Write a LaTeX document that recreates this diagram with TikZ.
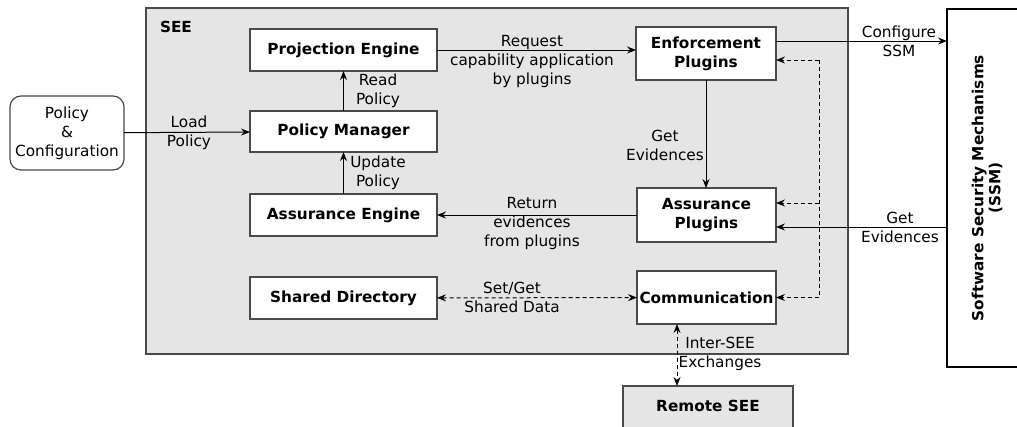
\documentclass[tikz,border=0pt]{standalone}
\usepackage{fontspec}
\setmainfont{DejaVu Sans}
\usetikzlibrary{arrows.meta}

\definecolor{seegrey}{HTML}{E5E5E5}
\definecolor{edgegrey}{HTML}{4A4A4A}

\newcommand{\diagfont}{\fontsize{15.3}{19}\selectfont}

\tikzset{
  every node/.style={font=\diagfont, inner sep=0pt, outer sep=0pt},
  box/.style={draw=edgegrey, line width=1.2pt, fill=white, align=center,
              font=\diagfont\bfseries},
  lbl/.style={align=center},
  tip/.style={-{Stealth[length=9pt,width=7pt,inset=3pt]}},
  conn/.style={tip, line width=1pt, black},
  dline/.style={line width=1pt, black, dash pattern=on 4pt off 3pt},
  dconn/.style={dline, tip},
  ddconn/.style={dline, {Stealth[length=9pt,width=7pt,inset=3pt]}-{Stealth[length=9pt,width=7pt,inset=3pt]}},
}

\begin{document}
\begin{tikzpicture}[x=1pt, y=-1pt]
  \useasboundingbox (0,0) rectangle (1017,426);
  \clip (0,0) rectangle (1017,426);

  % SEE container
  \node[draw=edgegrey, line width=1.2pt, fill=seegrey, minimum width=702pt, minimum height=346pt] (see) at (497,181) {};
  \node[anchor=west, font=\diagfont\bfseries] (seelbl) at (160,27) {SEE};

  % external elements
  \node[box, font=\diagfont, rounded corners=11pt, minimum width=114pt, minimum height=74pt] (pc) at (67,133) {Policy\\\&\\Configuration};
  \node[draw=black, line width=1.2pt, fill=white, minimum width=100pt, minimum height=358pt] (ssm) at (997,188) {};
  \node[rotate=90, align=center, font=\fontsize{15.3}{17}\selectfont\bfseries] (ssmlbl) at (987,188) {Software Security Mechanisms\\(SSM)};
  \node[draw=edgegrey, line width=1.2pt, fill=seegrey, minimum width=170pt, minimum height=60pt] (remote) at (708,416) {};
  \node[font=\diagfont\bfseries] (remotelbl) at (708,406) {Remote SEE};

  % SEE components
  \node[box, minimum width=187pt, minimum height=42pt] (pe) at (343.5,50) {Projection Engine};
  \node[box, minimum width=187pt, minimum height=41pt] (pm) at (343.5,131.5) {Policy Manager};
  \node[box, minimum width=187pt, minimum height=42pt] (ae) at (343.5,215) {Assurance Engine};
  \node[box, minimum width=187pt, minimum height=42pt] (sd) at (343.5,298) {Shared Directory};
  \node[box, minimum width=140pt, minimum height=53pt] (enf) at (706,53.5) {Enforcement\\Plugins};
  \node[box, minimum width=139pt, minimum height=54pt] (ap) at (706.5,215) {Assurance\\Plugins};
  \node[box, minimum width=139pt, minimum height=53pt] (comm) at (706.5,297.5) {Communication};

  % solid connectors
  \draw[conn] (pc) -- (pm);
  \draw[conn] (pm) -- (pe);
  \draw[conn] (ae) -- (pm);
  \draw[conn] (pe) -- (pe -| enf.west);
  \draw[conn] (enf.south) -- (enf.south |- ap.north);
  \draw[conn] (ap) -- (ae);
  \draw[conn] ([yshift=12.5pt]enf.east) -- ([yshift=12.5pt]enf.east -| ssm.west);
  \draw[conn] ([yshift=-12pt]ap.east -| ssm.west) -- ([yshift=-12pt]ap.east);

  % dashed connectors
  \coordinate (bustop) at (819,60);
  \coordinate (busmid) at (819,203);
  \coordinate (busbot) at (819,297.5);
  \draw[dline] (bustop) -- (busbot);
  \draw[dconn] (bustop) -- (bustop -| enf.east);
  \draw[dconn] (busmid) -- (busmid -| ap.east);
  \draw[dconn] (busbot) -- (comm.east);
  \draw[ddconn] (sd) -- (comm);
  \draw[ddconn] (comm.south -| 677,0) -- (remote.north -| 677,0);

  % connector labels
  \node[lbl] (l1) at (189,132.5) {Load\\Policy};
  \node[lbl] (l2) at (378,90.5) {Read\\Policy};
  \node[lbl] (l3) at (378,172.5) {Update\\Policy};
  \node[lbl] (l4) at (532,62) {Request\\capability application\\by plugins};
  \node[lbl] (l5) at (665,145) {Get\\Evidences};
  \node[lbl] (l6) at (532,224) {Return\\evidences\\from plugins};
  \node[lbl] (l7) at (512,297.5) {Set/Get\\Shared Data};
  \node[lbl] (l8) at (720,353.5) {Inter-SEE\\Exchanges};
  \node[lbl] (l9) at (899,41.5) {Configure\\SSM};
  \node[lbl] (l10) at (900,227.5) {Get\\Evidences};
\end{tikzpicture}
\end{document}
